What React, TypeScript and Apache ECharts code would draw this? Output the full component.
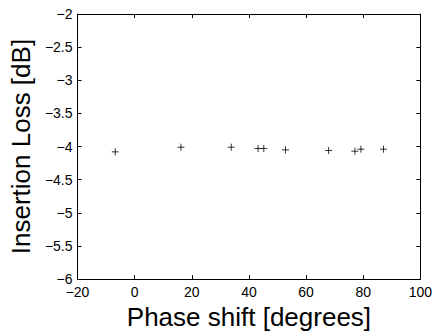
import React, { useEffect, useRef } from "react";
import * as echarts from "echarts";

const phaseShift = [-6.8, 16.2, 33.8, 43.2, 45.2, 52.8, 67.9, 77.1, 79.2, 87.1];
const insertionLoss = [-4.08, -4.01, -4.01, -4.03, -4.03, -4.05, -4.06, -4.07, -4.04, -4.04];
const xTitle = "Phase shift [degrees]";
const yTitle = "Insertion Loss [dB]";

const FONT = "'Liberation Sans', Arial, Helvetica, sans-serif";
const minus = (v: number) => String(v).replace("-", "\u2212");

export default function App() {
  const ref = useRef<HTMLDivElement>(null);
  useEffect(() => {
    if (!ref.current) return;
    const chart = echarts.init(ref.current, null, { renderer: "svg" });
    const axisCommon = {
      axisLine: { show: true, onZero: false, lineStyle: { color: "#000", width: 1 } },
      axisTick: { show: true, inside: true, length: 4, lineStyle: { color: "#000" } },
      splitLine: { show: false },
    };
    chart.setOption({
      animation: false,
      backgroundColor: "#fff",
      grid: { left: 75, right: 12, top: 14, bottom: 49, containLabel: false },
      xAxis: [
        {
          type: "value",
          position: "bottom",
          min: -20,
          max: 100,
          interval: 20,
          ...axisCommon,
          axisLabel: {
            color: "#000",
            fontFamily: FONT,
            fontSize: 14,
            margin: 6,
            formatter: (v: number) => minus(v),
          },
          name: xTitle,
          nameLocation: "middle",
          nameGap: 20,
          nameTextStyle: { color: "#000", fontFamily: FONT, fontSize: 26, verticalAlign: "top" },
        },
        {
          type: "value",
          position: "top",
          min: -20,
          max: 100,
          interval: 20,
          ...axisCommon,
          axisLabel: { show: false },
        },
      ],
      yAxis: [
        {
          type: "value",
          position: "left",
          min: -6,
          max: -2,
          interval: 0.5,
          ...axisCommon,
          axisLabel: {
            color: "#000",
            fontFamily: FONT,
            fontSize: 14,
            margin: 5,
            formatter: (v: number) => minus(v),
          },
          name: yTitle,
          nameLocation: "middle",
          nameGap: 40,
          nameTextStyle: { color: "#000", fontFamily: FONT, fontSize: 26 },
        },
        {
          type: "value",
          position: "right",
          min: -6,
          max: -2,
          interval: 0.5,
          ...axisCommon,
          axisLabel: { show: false },
        },
      ],
      series: [
        {
          type: "scatter",
          xAxisIndex: 0,
          yAxisIndex: 0,
          data: phaseShift.map((x, i) => [x, insertionLoss[i]]),
          symbol: "path://M0,-1L0,1M-1,0L1,0",
          symbolSize: 7,
          itemStyle: { color: "none", borderColor: "#000", borderWidth: 1 },
        },
      ],
    });
    return () => chart.dispose();
  }, []);
  return (
    <div
      ref={ref}
      style={{ position: "absolute", left: 0, top: 0, width: 435, height: 335 }}
    />
  );
}
